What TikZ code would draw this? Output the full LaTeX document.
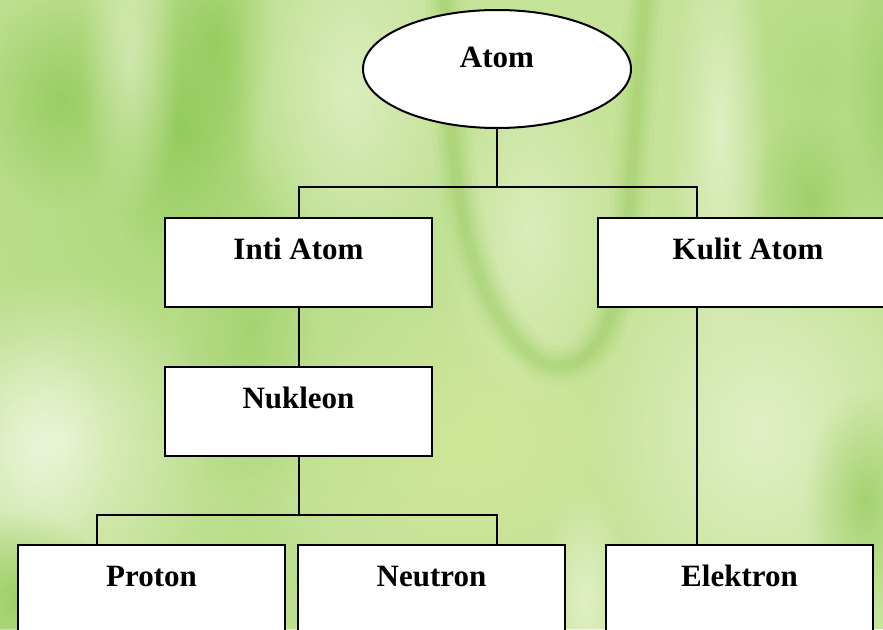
\documentclass[tikz,border=0pt]{standalone}
\usepackage{fontspec}
\setmainfont{Liberation Serif}
\usetikzlibrary{shapes.geometric,fadings}

% soft radial mask used for the blurred leaf texture
\tikzfading[name=softblob, inner color=transparent!0, outer color=transparent!100]

\definecolor{leafbase}{HTML}{C6E39A}
\definecolor{leafdark}{HTML}{92CA5A}
\definecolor{leafmid}{HTML}{AAD878}
\definecolor{leaflight}{HTML}{E8F3D0}
\definecolor{leafyellow}{HTML}{D6E898}

\begin{document}
\begin{tikzpicture}[x=1pt,y=1pt,
  box/.style={draw=black, line width=2pt, fill=white, rectangle, inner sep=0pt,
              minimum width=267pt, text height=41pt, text depth=48pt,
              font=\fontsize{31}{31}\selectfont\bfseries},
  rootshape/.style={draw=black, line width=2pt, fill=white, ellipse, inner sep=0pt,
              minimum width=268pt, minimum height=118pt, text height=22pt, text depth=26pt,
              font=\fontsize{31}{31}\selectfont\bfseries},
  link/.style={draw=black, line width=2pt}]

\useasboundingbox (0,0) rectangle (883,-629);
\clip (0,0) rectangle (883,-629);

% ---- blurred green leaf background ----
\fill[leafbase] (0,0) rectangle (883,-629);
\foreach \c/\x/\y/\rx/\ry/\o in {
  leafmid/150/200/360/440/0.8,
  leafdark/60/100/90/110/0.8,
  leafdark/180/130/80/150/0.9,
  leafdark/215/40/60/130/0.8,
  leafdark/250/330/70/200/0.5,
  leaflight/130/60/50/160/0.6,
  leaflight/350/90/120/210/0.7,
  leaflight/60/440/150/170/0.9,
  white/30/450/80/120/0.35,
  leafdark/20/600/90/90/0.8,
  leafmid/250/600/90/110/0.6,
  leafyellow/470/440/200/160/0.6,
  leaflight/530/230/90/180/0.6,
  leafmid/820/80/150/210/0.8,
  leaflight/720/130/50/230/0.8,
  leafdark/810/200/60/90/0.7,
  leafdark/885/100/40/200/0.6,
  leaflight/760/430/170/210/0.8,
  leafdark/865/500/60/110/0.7,
  leaflight/585/600/45/110/0.8}
  \fill[\c, fill opacity=\o, path fading=softblob] (\x,-\y) ellipse [x radius=\rx, y radius=\ry];

% the soft green stem curving through the middle
\foreach \w/\o in {40/0.07, 30/0.09, 22/0.11, 15/0.13, 9/0.15}
  \draw[leafdark, line width=\w pt, opacity=\o, line cap=round]
    (445,0) .. controls (450,-150) and (455,-300) .. (540,-362)
            .. controls (600,-385) and (625,-300) .. (630,-200)
            .. controls (635,-120) and (640,-60) .. (645,0);

% ---- hierarchy ----
\node[rootshape] (atom) at (497,-69) {Atom};

\node[box, anchor=north west] (inti)     at (164,-217) {Inti Atom};
\node[box, anchor=north west, minimum width=300pt] (kulit) at (597,-217) {Kulit Atom};
\node[box, anchor=north west] (nukleon)  at (164,-366) {Nukleon};
\node[box, anchor=north west] (proton)   at (17,-544)  {Proton};
\node[box, anchor=north west] (neutron)  at (297,-544) {Neutron};
\node[box, anchor=north west] (elektron) at (605,-544) {Elektron};

\coordinate (topbar) at (atom.south |- 0,-187);
\coordinate (kdrop)  at (697,-217);
\coordinate (lowbar) at (nukleon.south |- 0,-515);
\coordinate (pdrop)  at (97,-544);
\coordinate (ndrop)  at (497,-544);

\draw[link] (atom.south) -- (topbar);
\draw[link] (inti.north) |- (topbar) -| (kdrop);
\draw[link] (inti.south) -- (nukleon.north);
\draw[link] (kulit.south -| kdrop) -- (elektron.north -| kdrop);
\draw[link] (nukleon.south) -- (lowbar);
\draw[link] (pdrop) |- (lowbar) -| (ndrop);
\end{tikzpicture}
\end{document}
